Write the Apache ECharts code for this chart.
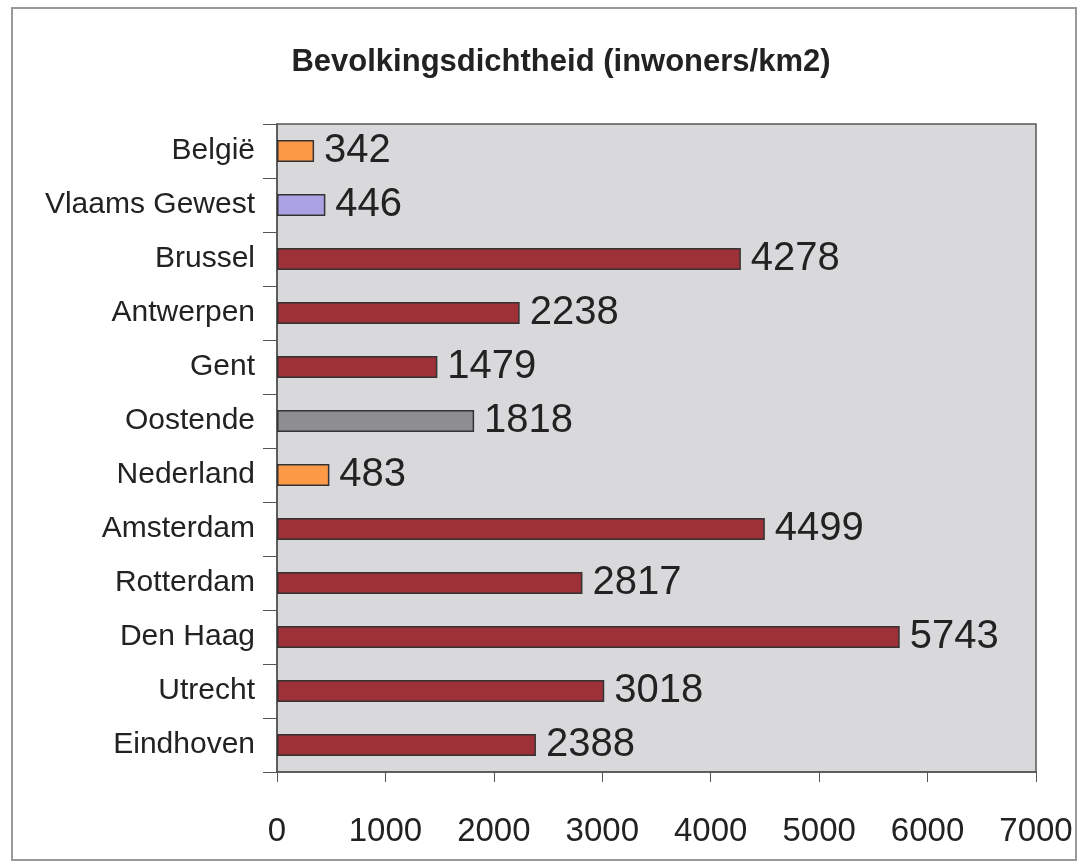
<!DOCTYPE html>
<html>
<head>
<meta charset="utf-8">
<script src="https://cdn.jsdelivr.net/npm/echarts@6/dist/echarts.min.js"></script>
<style>
  html, body { margin: 0; padding: 0; background: #fff; }
  #chart { width: 1081px; height: 865px; }
</style>
</head>
<body>
<div id="chart"></div>
<script>
// gegevens
var regios = ['België', 'Vlaams Gewest', 'Brussel', 'Antwerpen', 'Gent', 'Oostende',
  'Nederland', 'Amsterdam', 'Rotterdam', 'Den Haag', 'Utrecht', 'Eindhoven'];
var dichtheid = [342, 446, 4278, 2238, 1479, 1818, 483, 4499, 2817, 5743, 3018, 2388];
var kleuren = ['#fd9a48', '#aaa2e2', '#9e3038', '#9e3038', '#9e3038', '#8e8e90',
  '#fd9a48', '#9e3038', '#9e3038', '#9e3038', '#9e3038', '#9e3038'];
var xTicks = [0, 1000, 2000, 3000, 4000, 5000, 6000, 7000];

var chart = echarts.init(document.getElementById('chart'));

var balken = dichtheid.map(function (v, i) {
  return { value: v, itemStyle: { color: kleuren[i] } };
});

var option = {
  animation: false,
  title: {
    text: 'Bevolkingsdichtheid (inwoners/km2)',
    left: 556,
    textAlign: 'center',
    top: 42,
    textStyle: { fontFamily: 'Liberation Sans', fontSize: 31, fontWeight: 'bold', color: '#222' }
  },
  graphic: [{
    type: 'rect',
    shape: { x: 12, y: 8, width: 1064, height: 852 },
    style: { fill: 'none', stroke: '#999', lineWidth: 2 },
    z: -1
  }],
  grid: {
    left: 277, top: 124, width: 759, height: 648,
    show: true,
    backgroundColor: '#d9d9dc',
    borderColor: '#555',
    borderWidth: 1.5
  },
  xAxis: {
    type: 'value',
    min: xTicks[0],
    max: xTicks[xTicks.length - 1],
    interval: 1000,
    splitLine: { show: false },
    axisLine: { show: true, lineStyle: { color: '#555', width: 1.5 } },
    axisTick: { show: true, length: 10, lineStyle: { color: '#555' } },
    axisLabel: {
      margin: 43, fontFamily: 'Liberation Sans', fontSize: 33, color: '#222',
      formatter: function (v) { return String(v); }
    }
  },
  yAxis: {
    type: 'category',
    data: regios,
    inverse: true,
    axisLine: { show: true, lineStyle: { color: '#555', width: 1.5 } },
    axisTick: { show: true, length: 14, lineStyle: { color: '#555' } },
    axisLabel: { margin: 22, fontFamily: 'Liberation Sans', fontSize: 30, color: '#222' }
  },
  series: [{
    type: 'bar',
    data: balken,
    barWidth: 22,
    itemStyle: { borderColor: '#333', borderWidth: 1.5 },
    label: {
      show: true,
      position: 'right',
      distance: 10,
      fontFamily: 'Liberation Sans',
      fontSize: 40,
      color: '#222'
    }
  }]
};

chart.setOption(option);
</script>
</body>
</html>
